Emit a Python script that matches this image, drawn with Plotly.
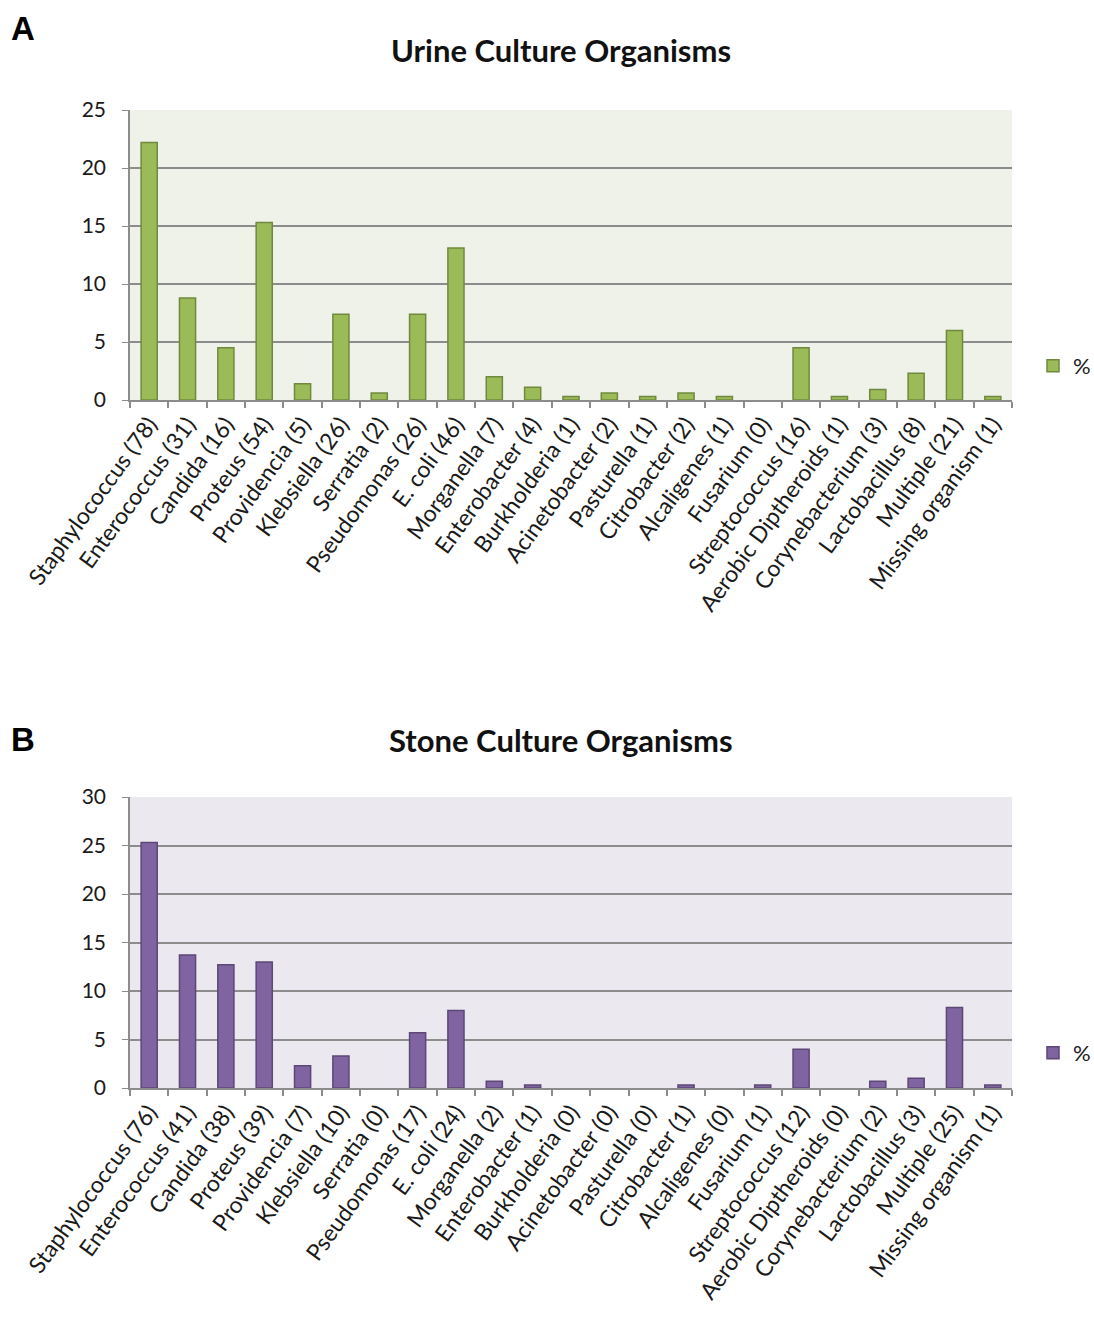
import plotly.graph_objects as go
from plotly.subplots import make_subplots

urine_labels = ["Staphylococcus (78)", "Enterococcus (31)", "Candida (16)", "Proteus (54)",
                "Providencia (5)", "Klebsiella (26)", "Serratia (2)", "Pseudomonas (26)",
                "E. coli (46)", "Morganella (7)", "Enterobacter (4)", "Burkholderia (1)",
                "Acinetobacter (2)", "Pasturella (1)", "Citrobacter (2)", "Alcaligenes (1)",
                "Fusarium (0)", "Streptococcus (16)", "Aerobic Diptheroids (1)",
                "Corynebacterium (3)", "Lactobacillus (8)", "Multiple (21)", "Missing organism (1)"]
urine_pct = [22.2, 8.8, 4.5, 15.3, 1.4, 7.4, 0.6, 7.4, 13.1, 2.0, 1.1, 0.3,
             0.6, 0.3, 0.6, 0.3, 0.0, 4.5, 0.3, 0.9, 2.3, 6.0, 0.3]

stone_labels = ["Staphylococcus (76)", "Enterococcus (41)", "Candida (38)", "Proteus (39)",
                "Providencia (7)", "Klebsiella (10)", "Serratia (0)", "Pseudomonas (17)",
                "E. coli (24)", "Morganella (2)", "Enterobacter (1)", "Burkholderia (0)",
                "Acinetobacter (0)", "Pasturella (0)", "Citrobacter (1)", "Alcaligenes (0)",
                "Fusarium (1)", "Streptococcus (12)", "Aerobic Diptheroids (0)",
                "Corynebacterium (2)", "Lactobacillus (3)", "Multiple (25)", "Missing organism (1)"]
stone_pct = [25.3, 13.7, 12.7, 13.0, 2.3, 3.3, 0.0, 5.7, 8.0, 0.7, 0.3, 0.0,
             0.0, 0.0, 0.3, 0.0, 0.3, 4.0, 0.0, 0.7, 1.0, 8.3, 0.3]

W, H = 1094, 1317
ML = 130
MR = W - 1012
PW = W - ML - MR
FONT = "Lato, 'Open Sans', sans-serif"


def px_x(x):
    return (x - ML) / PW


def px_y(y):
    return 1 - y / H


fig = make_subplots(rows=2, cols=1)

fig.add_trace(go.Bar(x=urine_labels, y=urine_pct, name="%", width=0.42,
                     marker=dict(color="#9BBB59",
                                 line=dict(color="#71893F",
                                           width=[1.5 if v > 0 else 0 for v in urine_pct])),
                     legend="legend"), row=1, col=1)
fig.add_trace(go.Bar(x=stone_labels, y=stone_pct, name="%", width=0.42,
                     marker=dict(color="#8064A2",
                                 line=dict(color="#5C4776",
                                           width=[1.5 if v > 0 else 0 for v in stone_pct])),
                     legend="legend2"), row=2, col=1)

xaxis_common = dict(type="category", tickangle=-54, tickson="boundaries", ticks="outside",
                    ticklen=6, tickcolor="#8C8C8C", tickwidth=1.5, showline=True,
                    linecolor="#8C8C8C", linewidth=1.5, showgrid=False,
                    tickfont=dict(family=FONT, size=23, color="#1a1a1a"), automargin=False)
yaxis_common = dict(showgrid=True, gridcolor="#8C8C8C", gridwidth=1.5, showline=True,
                    linecolor="#8C8C8C", linewidth=1.5, ticks="outside", ticklen=6,
                    tickcolor="#8C8C8C", zeroline=False, ticklabelstandoff=12,
                    tickfont=dict(family=FONT, size=21, color="#1a1a1a"), automargin=False)

fig.update_xaxes(**xaxis_common, row=1, col=1)
fig.update_xaxes(**xaxis_common, row=2, col=1)
fig.update_yaxes(**yaxis_common, range=[0, 25], dtick=5, row=1, col=1)
fig.update_yaxes(**yaxis_common, range=[0, 30], dtick=5, row=2, col=1)

fig.update_layout(
    width=W, height=H, autosize=False,
    margin=dict(l=ML, r=MR, t=0, b=0, autoexpand=False),
    paper_bgcolor="white",
    plot_bgcolor="#EEF2E8",
    yaxis=dict(domain=[px_y(400), px_y(110)]),
    yaxis2=dict(domain=[px_y(1088), px_y(797)]),
    xaxis=dict(domain=[0, 1]),
    xaxis2=dict(domain=[0, 1]),
    legend=dict(x=px_x(1033), y=px_y(366), xanchor="left", yanchor="middle",
                font=dict(family=FONT, size=22, color="#1a1a1a"), bgcolor="rgba(0,0,0,0)"),
    legend2=dict(x=px_x(1033), y=px_y(1053), xanchor="left", yanchor="middle",
                 font=dict(family=FONT, size=22, color="#1a1a1a"), bgcolor="rgba(0,0,0,0)"),
    showlegend=True,
    shapes=[
        dict(type="rect", xref="x2 domain", yref="y2 domain", x0=0, x1=1, y0=0, y1=1,
             fillcolor="#EBE9EF", line=dict(width=0), layer="below"),
    ],
    annotations=[
        dict(text="<b>Urine Culture Organisms</b>", x=px_x(561), y=px_y(50),
             xref="paper", yref="paper", xanchor="center", yanchor="middle",
             showarrow=False, font=dict(family=FONT, size=31, color="#111")),
        dict(text="<b>Stone Culture Organisms</b>", x=px_x(561), y=px_y(740),
             xref="paper", yref="paper", xanchor="center", yanchor="middle",
             showarrow=False, font=dict(family=FONT, size=31, color="#111")),
        dict(text="<b>A</b>", x=px_x(23), y=px_y(28), xref="paper", yref="paper",
             xanchor="center", yanchor="middle",
             showarrow=False, font=dict(family="Liberation Sans, Arial", size=33, color="#000")),
        dict(text="<b>B</b>", x=px_x(23), y=px_y(740), xref="paper", yref="paper",
             xanchor="center", yanchor="middle",
             showarrow=False, font=dict(family="Liberation Sans, Arial", size=33, color="#000")),
    ],
)

fig.write_html("out.html", config={"responsive": False, "displayModeBar": False},
               post_script="document.body.style.margin='0';document.body.style.overflow='hidden';")
